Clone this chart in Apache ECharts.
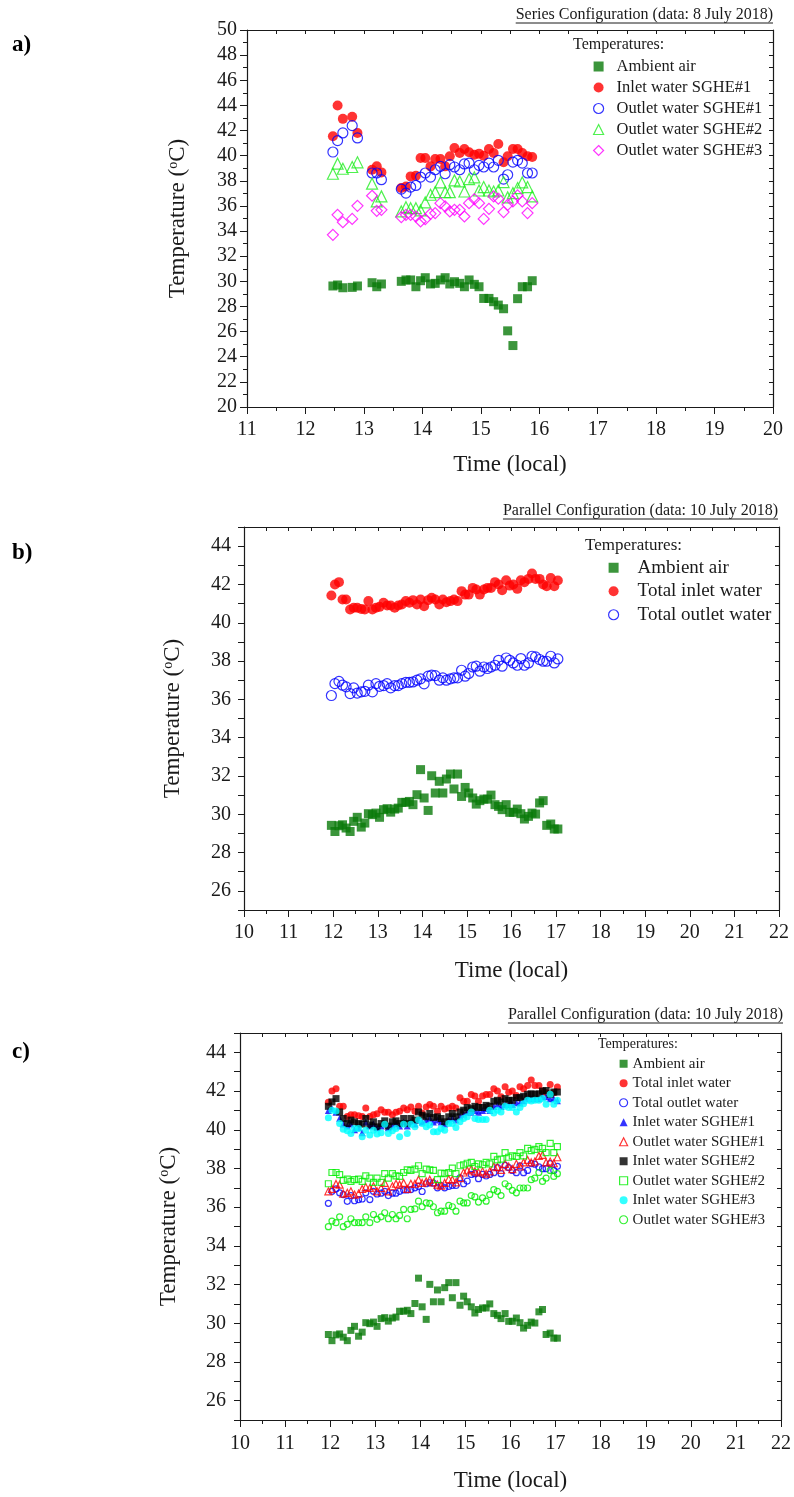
<!DOCTYPE html>
<html>
<head>
<meta charset="utf-8">
<title>SGHE temperatures</title>
<script src="https://cdn.jsdelivr.net/npm/echarts@6/dist/echarts.min.js"></script>
<style>
  html, body { margin: 0; padding: 0; background: #fff; }
  .panel { position: absolute; left: 0; width: 794px; }
</style>
</head>
<body>
<div id="chartA" class="panel" style="top:0;height:490px"></div>
<div id="chartB" class="panel" style="top:490px;height:505px"></div>
<div id="chartC" class="panel" style="top:995px;height:502px"></div>
<script>
// a) series configuration, 8 July 2018
const timesA = [12.47, 12.55, 12.64, 12.80, 12.89, 13.14, 13.22, 13.30, 13.64, 13.72, 13.80, 13.89, 13.97, 14.05, 14.14, 14.22, 14.31, 14.39,
  14.47, 14.55, 14.64, 14.72, 14.80, 14.89, 14.97, 15.05, 15.14, 15.22, 15.30, 15.39, 15.46, 15.55, 15.63, 15.71, 15.80, 15.88]
const ambientA = [29.63, 29.71, 29.49, 29.52, 29.63, 29.89, 29.57, 29.79, 30.0, 30.11, 30.11, 29.57, 30.05, 30.29, 29.79, 29.84, 30.11, 30.29,
  29.79, 29.97, 29.84, 29.57, 30.11, 29.76, 29.57, 28.64, 28.64, 28.38, 28.11, 27.82, 26.06, 24.89, 28.62, 29.57, 29.57, 30.05]
const inletA1 = [41.54, 43.99, 42.93, 43.09, 41.81, 38.88, 39.15, 38.67, 37.42, 37.55, 38.35, 38.40, 39.81, 39.81, 39.15, 39.73, 39.73, 39.15,
  39.95, 40.61, 40.21, 40.53, 40.27, 40.08, 40.16, 40.0, 40.53, 40.21, 40.93, 39.47, 39.95, 40.53, 40.53, 40.21, 39.95, 39.89]
const outletA1 = [40.29, 41.20, 41.81, 42.39, 41.41, 38.62, 38.62, 38.09, 37.34, 37.02, 37.50, 37.63, 38.30, 38.62, 38.30, 38.88, 39.15, 38.56,
  39.28, 39.10, 38.88, 39.34, 39.41, 38.88, 39.23, 39.10, 39.41, 39.10, 39.63, 38.14, 38.48, 39.49, 39.63, 39.41, 38.62, 38.62]
const outletA2 = [38.56, 39.36, 38.96, 39.10, 39.47, 37.77, 36.36, 36.76, 35.56, 35.90, 35.82, 35.82, 35.64, 36.28, 36.89, 37.10, 37.87, 37.10,
  37.10, 38.03, 37.95, 37.15, 38.14, 38.27, 37.23, 37.50, 37.23, 37.15, 37.23, 37.90, 36.68, 37.02, 37.42, 37.87, 37.50, 36.76]
const outletA3 = [33.70, 35.29, 34.71, 34.97, 36.01, 36.81, 35.61, 35.69, 35.11, 35.29, 35.29, 35.16, 34.76, 34.95, 35.37, 35.43, 36.22, 35.96,
  35.56, 35.69, 35.69, 35.16, 36.22, 36.54, 36.22, 34.97, 35.77, 36.76, 36.57, 35.51, 36.09, 36.36, 36.84, 36.36, 35.43, 36.22]

// b) and c) parallel configuration, 10 July 2018
const timesB = [11.96, 12.04, 12.13, 12.21, 12.29, 12.38, 12.46, 12.54, 12.63, 12.71, 12.79, 12.88, 12.96,
  13.04, 13.13, 13.21, 13.29, 13.38, 13.46, 13.54, 13.63, 13.71, 13.79, 13.88, 13.96,
  14.04, 14.13, 14.21, 14.29, 14.38, 14.46, 14.54, 14.63, 14.71, 14.79, 14.88, 14.96,
  15.04, 15.13, 15.21, 15.29, 15.38, 15.46, 15.54, 15.63, 15.71, 15.79, 15.88, 15.96,
  16.04, 16.13, 16.21, 16.29, 16.38, 16.46, 16.54, 16.63, 16.71, 16.79, 16.88, 16.96, 17.04]
const ambientB = [29.42, 29.10, 29.40, 29.45, 29.28, 29.10, 29.63, 29.84, 29.33, 29.54,
  30.03, 29.98, 30.06, 29.84, 30.24, 30.29, 30.11, 30.27, 30.32, 30.62,
  30.62, 30.67, 30.50, 31.02, 32.33, 30.85, 30.20, 32.01, 31.11, 31.72,
  31.11, 31.84, 32.10, 31.32, 32.10, 30.93, 31.40, 31.11, 30.85, 30.53,
  30.71, 30.79, 30.79, 31.00, 30.50, 30.41, 30.24, 30.50, 30.10, 30.10,
  30.27, 30.03, 29.75, 29.89, 30.06, 30.01, 30.59, 30.71, 29.42, 29.49, 29.23, 29.23]
const totalInB = [41.42, 42.00, 42.12, 41.21, 41.21, 40.69, 40.78, 40.78, 40.72, 40.69,
  41.13, 40.69, 40.78, 40.83, 41.04, 40.90, 40.90, 40.78, 40.90, 40.95,
  41.13, 41.04, 41.18, 40.95, 41.21, 40.86, 41.18, 41.30, 41.21, 40.95,
  41.21, 41.07, 41.13, 41.21, 41.13, 41.65, 41.47, 41.47, 41.82, 41.74,
  41.47, 41.74, 41.82, 41.82, 42.12, 42.00, 41.70, 42.22, 41.94, 42.00,
  41.77, 42.22, 42.12, 42.29, 42.57, 42.29, 42.29, 42.00, 41.91, 42.34, 41.91, 42.21]
const totalOutB = [36.20, 36.82, 36.94, 36.74, 36.65, 36.30, 36.60, 36.33, 36.39, 36.42,
  36.74, 36.39, 36.82, 36.68, 36.72, 36.82, 36.60, 36.72, 36.72, 36.82,
  36.89, 36.89, 36.91, 37.00, 37.07, 36.81, 37.21, 37.26, 37.24, 37.00,
  37.12, 37.00, 37.07, 37.12, 37.12, 37.52, 37.21, 37.35, 37.69, 37.73,
  37.47, 37.69, 37.61, 37.69, 37.78, 38.04, 37.73, 38.16, 38.04, 37.90,
  37.78, 38.13, 37.78, 37.90, 38.25, 38.22, 38.08, 37.99, 37.99, 38.25, 37.90, 38.11]
const inletC1 = [41.0, 41.1, 40.9, 40.6, 40.3, 40.2, 40.3, 40.0, 40.1, 39.85,
  40.4, 40.2, 40.3, 40.1, 40.2, 40.3, 40.1, 40.2, 40.3, 40.2,
  40.4, 40.2, 40.4, 40.3, 40.5, 40.4, 40.5, 40.6, 40.4, 40.5,
  40.4, 40.3, 40.5, 40.6, 40.5, 40.7, 40.8, 40.9, 40.9, 41.0,
  40.9, 41.0, 41.1, 41.0, 41.2, 41.3, 41.2, 41.3, 41.3, 41.3,
  41.4, 41.4, 41.5, 41.6, 41.6, 41.6, 41.6, 41.7, 41.7, 41.6, 41.6, 41.5]
const outletC1 = [36.82, 36.94, 37.20, 37.16, 36.70, 36.74, 36.82, 36.65, 36.70, 36.94,
  37.04, 36.99, 37.08, 36.82, 36.99, 37.25, 36.82, 37.08, 37.21, 37.16,
  37.25, 36.94, 37.21, 37.21, 37.42, 37.25, 37.33, 37.42, 37.28, 37.16,
  37.11, 37.25, 37.45, 37.42, 37.28, 37.50, 37.79, 37.90, 37.97, 37.85,
  37.79, 37.85, 37.73, 37.85, 38.10, 38.07, 37.93, 38.24, 38.10, 37.97,
  38.24, 38.10, 38.31, 38.44, 38.31, 38.36, 38.65, 38.70, 38.31, 38.36, 38.27, 38.58]
const inletC2 = [41.21, 41.44, 41.61, 40.92, 40.58, 40.32, 40.50, 40.41, 40.32, 40.29,
  40.58, 40.24, 40.41, 40.15, 40.32, 40.46, 40.19, 40.41, 40.46, 40.32,
  40.58, 40.32, 40.58, 40.50, 40.92, 40.75, 40.67, 40.84, 40.63, 40.67,
  40.58, 40.41, 40.67, 40.84, 40.67, 40.92, 41.01, 41.15, 41.09, 41.21,
  41.15, 41.15, 41.26, 41.21, 41.47, 41.52, 41.44, 41.61, 41.52, 41.52,
  41.66, 41.66, 41.73, 41.83, 41.86, 41.83, 41.86, 42.00, 42.03, 41.83, 41.95, 41.95]
const outletC2 = [37.21, 37.79, 37.79, 37.68, 37.38, 37.45, 37.33, 37.42, 37.45, 37.33,
  37.62, 37.50, 37.28, 37.50, 37.28, 37.73, 37.50, 37.73, 37.62, 37.59,
  37.79, 37.93, 37.90, 37.97, 38.14, 37.73, 37.97, 37.93, 37.90, 37.42,
  37.76, 37.73, 37.79, 38.02, 37.73, 38.14, 38.19, 38.27, 38.31, 38.10,
  38.24, 38.19, 38.31, 38.24, 38.62, 38.44, 38.48, 38.82, 38.58, 38.65,
  38.62, 38.82, 38.65, 39.04, 38.92, 38.99, 39.13, 39.04, 38.82, 39.30, 38.82, 39.13]
const inletC3 = [40.62, 41.01, 40.97, 40.32, 40.02, 39.95, 39.81, 40.07, 40.07, 39.64,
  39.98, 39.73, 39.98, 39.78, 39.85, 40.29, 39.81, 39.95, 40.07, 39.64,
  40.29, 39.81, 40.29, 40.15, 40.50, 40.32, 40.15, 40.24, 39.90, 39.90,
  40.07, 39.98, 40.32, 40.32, 40.12, 40.41, 40.58, 40.67, 40.92, 40.58,
  40.53, 40.53, 40.53, 41.01, 40.87, 41.01, 40.92, 41.21, 41.15, 41.15,
  40.92, 41.15, 41.35, 41.52, 41.49, 41.52, 41.52, 41.61, 41.32, 41.83, 41.32, 41.52]
const outletC3 = [34.99, 35.28, 35.20, 35.50, 34.99, 35.11, 35.40, 35.20, 35.20, 35.20,
  35.50, 35.20, 35.62, 35.37, 35.50, 35.71, 35.40, 35.62, 35.40, 35.57,
  35.88, 35.40, 35.88, 35.91, 36.31, 36.02, 36.22, 36.19, 36.02, 35.71,
  35.79, 35.79, 36.09, 36.02, 35.79, 36.31, 36.22, 36.22, 36.60, 36.53,
  36.26, 36.48, 36.31, 36.65, 36.91, 36.82, 36.60, 37.21, 37.08, 36.87,
  36.74, 36.99, 36.99, 36.99, 37.42, 37.50, 37.79, 37.33, 37.50, 37.90, 37.59, 37.73]

const serif = 'Liberation Serif'
const ink = '#1a1a1a'

const zip = (xs, ys) => xs.map((x, i) => [x, ys[i]])

function textWidth(str, font) {
  const ctx = document.createElement('canvas').getContext('2d')
  ctx.font = font
  return ctx.measureText(str).width
}

// filled or open marker
function marker(name, times, values, symbol, size, color, open) {
  return {
    type: 'scatter',
    name: name,
    data: zip(times, values),
    symbol: symbol,
    symbolSize: size,
    silent: true,
    itemStyle: open
      ? { color: 'rgba(0,0,0,0)', borderColor: color, borderWidth: 1.2 }
      : { color: color },
  }
}

function buildOption(p) {
  const lineStyle = { color: ink, width: 1.2 }
  const tickStyle = { color: ink, width: 1 }
  const evenOnly = v => (v % 2 === 0 ? v : '')
  return {
    animation: false,
    grid: { left: p.grid[0], top: p.grid[1], width: p.grid[2], height: p.grid[3] },
    xAxis: [
      {
        type: 'value', min: p.xMin, max: p.xMax, interval: 1, position: 'bottom',
        name: 'Time (local)', nameLocation: 'middle', nameGap: p.xNameGap,
        nameTextStyle: { fontFamily: serif, fontSize: 23, color: ink },
        axisLine: { onZero: false, lineStyle: lineStyle },
        axisTick: { length: 7, lineStyle: tickStyle },
        minorTick: { show: true, splitNumber: 2, length: 4, lineStyle: tickStyle },
        axisLabel: { fontFamily: serif, fontSize: 20, color: ink, margin: p.xLabelGap },
        splitLine: { show: false },
      },
      {
        type: 'value', min: p.xMin, max: p.xMax, interval: 0.5, position: 'top',
        axisLine: { onZero: false, lineStyle: lineStyle },
        axisTick: { inside: true, length: 4, lineStyle: tickStyle },
        axisLabel: { show: false },
        splitLine: { show: false },
      },
    ],
    yAxis: [
      {
        type: 'value', min: p.yMin, max: p.yMax, interval: p.yStep, position: 'left',
        name: 'Temperature ({s|o}C)', nameLocation: 'middle', nameGap: p.yNameGap,
        nameTextStyle: {
          fontFamily: serif, fontSize: 23, color: ink,
          rich: { s: { fontFamily: serif, fontSize: 14, color: ink, verticalAlign: 'top' } },
        },
        axisLine: { onZero: false, lineStyle: lineStyle },
        axisTick: { length: p.yStep === 2 ? 7 : 6, lineStyle: tickStyle },
        minorTick: { show: p.yStep === 2, splitNumber: 2, length: 4, lineStyle: tickStyle },
        axisLabel: {
          fontFamily: serif, fontSize: 20, color: ink, margin: p.yLabelGap,
          formatter: p.yStep === 2 ? null : evenOnly,
        },
        splitLine: { show: false },
      },
      {
        type: 'value', min: p.yMin, max: p.yMax, interval: 1, position: 'right',
        axisLine: { onZero: false, lineStyle: lineStyle },
        axisTick: { inside: true, length: 4, lineStyle: tickStyle },
        axisLabel: { show: false },
        splitLine: { show: false },
      },
    ],
    legend: {
      orient: 'vertical', left: p.legend.left, top: p.legend.top,
      itemWidth: p.legend.icon, itemHeight: p.legend.icon, itemGap: 0,
      selectedMode: false,
      itemStyle: { borderWidth: 1.2 },
      textStyle: {
        fontFamily: serif, fontSize: p.legend.font, color: ink,
        lineHeight: p.legend.row, padding: [0, 0, 0, p.legend.pad],
      },
      data: p.series.map(s => s.name),
    },
    graphic: [
      {
        type: 'text', x: 12, y: p.tagY,
        style: { text: p.tag, font: 'bold 23px "Liberation Serif"', fill: '#000', verticalAlign: 'middle' },
      },
      {
        type: 'text', x: p.legend.headX, y: p.legend.headY,
        style: { text: 'Temperatures:', font: p.legend.headFont + 'px "Liberation Serif"', fill: ink, verticalAlign: 'middle' },
      },
      {
        type: 'text', x: p.title.right, y: p.title.y,
        style: { text: p.title.text, font: '16px "Liberation Serif"', fill: ink, align: 'right', verticalAlign: 'middle' },
      },
      {
        type: 'line',
        shape: {
          x1: p.title.right - textWidth(p.title.text, '16px "Liberation Serif"'), y1: p.title.y + 8,
          x2: p.title.right, y2: p.title.y + 8,
        },
        style: { stroke: ink, lineWidth: 1 },
      },
    ],
    series: p.series,
  }
}

const seriesA = [
  marker('Ambient air', timesA, ambientA, 'rect', 9, '#0a7a0a', false),
  marker('Inlet water SGHE#1', timesA, inletA1, 'circle', 10, '#ff0000', false),
  marker('Outlet water SGHE#1', timesA, outletA1, 'circle', 10, '#0000ff', true),
  marker('Outlet water SGHE#2', timesA, outletA2, 'triangle', 11, '#22ee22', true),
  marker('Outlet water SGHE#3', timesA, outletA3, 'diamond', 11, '#ff00ff', true),
]

const seriesB = [
  marker('Ambient air', timesB, ambientB, 'rect', 9, '#0a7a0a', false),
  marker('Total inlet water', timesB, totalInB, 'circle', 10, '#ff0000', false),
  marker('Total outlet water', timesB, totalOutB, 'circle', 10, '#0000ff', true),
]

const seriesC = [
  marker('Ambient air', timesB, ambientB, 'rect', 7, '#0a7a0a', false),
  marker('Total inlet water', timesB, totalInB, 'circle', 7, '#ff0000', false),
  marker('Total outlet water', timesB, totalOutB, 'circle', 6, '#0000ff', true),
  marker('Inlet water SGHE#1', timesB, inletC1, 'triangle', 7, '#0000ff', false),
  marker('Outlet water SGHE#1', timesB, outletC1, 'triangle', 7, '#ff0000', true),
  marker('Inlet water SGHE#2', timesB, inletC2, 'rect', 7, '#000000', false),
  marker('Outlet water SGHE#2', timesB, outletC2, 'rect', 6, '#00ee00', true),
  marker('Inlet water SGHE#3', timesB, inletC3, 'circle', 7, '#00ffff', false),
  marker('Outlet water SGHE#3', timesB, outletC3, 'circle', 6, '#00ee00', true),
]

const chartA = echarts.init(document.getElementById('chartA'))
chartA.setOption(buildOption({
  grid: [247, 30, 526, 377], xMin: 11, xMax: 20, yMin: 20, yMax: 50, yStep: 2,
  xNameGap: 46, yNameGap: 58, xLabelGap: 13, yLabelGap: 10, tag: 'a)', tagY: 45,
  title: { text: 'Series Configuration (data: 8 July 2018)', right: 773, y: 15 },
  legend: { left: 588, top: 51, icon: 10, font: 16.5, row: 21, pad: 8, headX: 573, headY: 45, headFont: 16 },
  series: seriesA,
}))

const chartB = echarts.init(document.getElementById('chartB'))
chartB.setOption(buildOption({
  grid: [244, 37, 535, 383], xMin: 10, xMax: 22, yMin: 25, yMax: 45, yStep: 1,
  xNameGap: 49, yNameGap: 60, xLabelGap: 13, yLabelGap: 13, tag: 'b)', tagY: 63,
  title: { text: 'Parallel Configuration (data: 10 July 2018)', right: 778, y: 21 },
  legend: { left: 603, top: 61, icon: 10, font: 19, row: 23.5, pad: 14, headX: 585, headY: 56, headFont: 17 },
  series: seriesB,
}))

const chartC = echarts.init(document.getElementById('chartC'))
chartC.setOption(buildOption({
  grid: [240, 38, 543, 390], xMin: 10, xMax: 22, yMin: 25, yMax: 45, yStep: 1,
  xNameGap: 49, yNameGap: 60, xLabelGap: 14, yLabelGap: 14, tag: 'c)', tagY: 57,
  title: { text: 'Parallel Configuration (data: 10 July 2018)', right: 783, y: 20 },
  legend: { left: 614, top: 54, icon: 8, font: 15, row: 19.5, pad: 0, headX: 598, headY: 49, headFont: 14 },
  series: seriesC,
}))
</script>
</body>
</html>
